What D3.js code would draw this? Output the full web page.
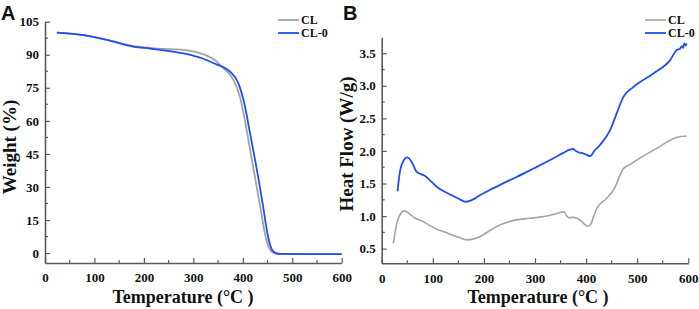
<!DOCTYPE html>
<html>
<head>
<meta charset="utf-8">
<script src="https://cdn.jsdelivr.net/npm/d3@7"></script>
<style>
  body { margin: 0; background: #fff; }
  text { font-family: "Liberation Serif", "Times New Roman", serif; font-weight: bold; }
</style>
</head>
<body>
<div id="chart"></div>
<script>
// TGA (panel A): [temperature, weight %]
const tgaCL = [[24,100],[70,99.1],[125,96.8],[180,93.9],[230,92.8],[280,92.2],[320,90.2],[347,87],[357,84.7],[370,82],[381,78.6],[394,71],[404,60.5],[414.6,47],[425,34],[436,20],[446,7.5],[455,1.5],[463,0],[472,-0.4],[600,-0.5]];
const tgaCL0 = [[24,100],[70,99.1],[125,96.8],[180,93.6],[212,92.8],[233,92.2],[280,90.6],[320,88.2],[347,85.6],[357,84.7],[374,82.4],[391,77.1],[404.4,66.5],[414.6,54.4],[421,46.8],[431,34.7],[441.5,20.5],[451,7.5],[459,1.5],[467,0],[477,-0.4],[600,-0.5]];

// DSC (panel B): [temperature, heat flow W/g]
const dscCL = [[22.7,0.58],[30,0.9],[37,1.04],[44,1.08],[52,1.05],[65,0.97],[81.5,0.915],[95,0.85],[111,0.787],[125,0.75],[137,0.71],[152,0.67],[166,0.635],[180,0.65],[192,0.684],[208,0.76],[225,0.84],[257,0.93],[290,0.966],[323,1.0],[343,1.04],[357,1.067],[362,1.0],[366,0.975],[375,0.98],[388,0.94],[396,0.88],[402.5,0.845],[408,0.86],[414,0.98],[421,1.12],[440,1.27],[457,1.45],[466,1.62],[473,1.73],[485,1.79],[499,1.86],[538,2.04],[578,2.21],[597,2.23]];
const dscCL0 = [[31,1.38],[35,1.65],[42,1.84],[50,1.9],[58,1.84],[68.5,1.68],[85,1.615],[97,1.53],[107.6,1.45],[122,1.38],[137,1.32],[152,1.26],[164,1.22],[180,1.26],[192,1.32],[205.5,1.375],[231.6,1.48],[264,1.6],[297,1.73],[329.5,1.86],[355.5,1.97],[368,2.02],[374,2.03],[380,2.0],[385,1.98],[395,1.96],[401,1.94],[408,1.92],[416,2.0],[427,2.09],[447,2.32],[460,2.58],[473,2.83],[492.5,2.98],[531.7,3.19],[564,3.39],[577.5,3.55],[584,3.57],[587,3.61],[590,3.58],[592,3.65],[595,3.62],[597,3.65]];

const xTicks = [0,100,200,300,400,500,600];
const tgaTicks = [0,15,30,45,60,75,90,105];
const dscTicks = [0.5,1.0,1.5,2.0,2.5,3.0,3.5];

const W = 699, H = 309;
const grey = "#a3a3a3", blue = "#1f4ff0", axisCol = "#5a5a5a";

const svg = d3.select("#chart").append("svg")
  .attr("width", W).attr("height", H);

function panel(opts) {
  const x = d3.scaleLinear().domain([0, 600]).range(opts.xr);
  const y = d3.scaleLinear().domain(opts.yd).range(opts.yr);
  const g = svg.append("g");

  // minor ticks
  const xMinor = d3.range(50, 600, 100);
  g.selectAll(".xm").data(xMinor).join("line")
    .attr("x1", d => x(d)).attr("x2", d => x(d))
    .attr("y1", opts.yr[0]).attr("y2", opts.yr[0] - 3)
    .attr("stroke", axisCol).attr("stroke-width", 1.2);
  g.selectAll(".ym").data(opts.yMinor).join("line")
    .attr("x1", opts.xr[0]).attr("x2", opts.xr[0] + 3)
    .attr("y1", d => y(d)).attr("y2", d => y(d))
    .attr("stroke", axisCol).attr("stroke-width", 1.2);

  // axes
  const xa = g.append("g").attr("transform", `translate(0,${opts.yr[0]})`)
    .call(d3.axisBottom(x).tickValues(xTicks).tickSizeInner(-5).tickSizeOuter(0).tickPadding(10).tickFormat(d3.format("d")));
  const ya = g.append("g").attr("transform", `translate(${opts.xr[0]},0)`)
    .call(d3.axisLeft(y).tickValues(opts.yTicks).tickSizeInner(-5).tickSizeOuter(0).tickPadding(6).tickFormat(opts.fmt));
  [xa, ya].forEach(a => {
    a.select(".domain").attr("stroke", axisCol).attr("stroke-width", 1.6);
    a.selectAll(".tick line").attr("stroke", axisCol).attr("stroke-width", 1.2);
    a.selectAll("text").attr("font-size", 13).attr("fill", "#111")
      .style("font-family", "Liberation Serif, serif").style("font-weight", "bold");
  });

  const line = d3.line().x(d => x(d[0])).y(d => y(d[1])).curve(d3.curveMonotoneX);
  opts.series.forEach(s => {
    g.append("path").datum(s.data)
      .attr("fill", "none").attr("stroke", s.color).attr("stroke-width", s.w)
      .attr("stroke-linejoin", "round").attr("d", line);
  });

  // labels
  g.append("text").attr("x", opts.xlx).attr("y", 303)
    .attr("text-anchor", "middle").attr("font-size", 18).attr("fill", "#111")
    .text("Temperature (°C )");
  g.append("text")
    .attr("transform", `translate(${opts.ylx},${opts.yly}) rotate(-90)`)
    .attr("text-anchor", "middle").attr("font-size", 19).attr("fill", "#111")
    .text(opts.ylabel);
  g.append("text").attr("x", opts.px).attr("y", 20)
    .style("font-family", "Liberation Sans, Arial, sans-serif").style("font-weight", "bold")
    .attr("font-size", 20).attr("fill", "#111").text(opts.pl);

  // legend
  opts.series.forEach((s, i) => {
    const ly = 20 + i * 13;
    g.append("line").attr("x1", opts.lx).attr("x2", opts.lx + 21)
      .attr("y1", ly).attr("y2", ly).attr("stroke", s.color).attr("stroke-width", s.w);
    g.append("text").attr("x", opts.lx + 23).attr("y", ly + 4)
      .attr("font-size", 12).attr("fill", "#111").text(s.name);
  });
}

panel({
  xr: [45, 341.7], yd: [-4.5, 105], yr: [263, 21.7],
  yTicks: tgaTicks, yMinor: d3.range(7.5, 105, 15), fmt: d3.format("d"),
  series: [{name: "CL", data: tgaCL, color: grey, w: 1.8}, {name: "CL-0", data: tgaCL0, color: blue, w: 1.8}],
  ylabel: "Weight (%)", ylx: 16, yly: 147, xlx: 183, pl: "A", px: 1, lx: 278
});

panel({
  xr: [381.7, 688.3], yd: [0.275, 3.745], yr: [263.3, 37.3],
  yTicks: dscTicks, yMinor: d3.range(0.75, 3.75, 0.5), fmt: d3.format(".1f"),
  series: [{name: "CL", data: dscCL, color: grey, w: 1.6}, {name: "CL-0", data: dscCL0, color: blue, w: 1.8}],
  ylabel: "Heat Flow (W/g)", ylx: 353, yly: 144, xlx: 538, pl: "B", px: 343, lx: 645
});
</script>
</body>
</html>
